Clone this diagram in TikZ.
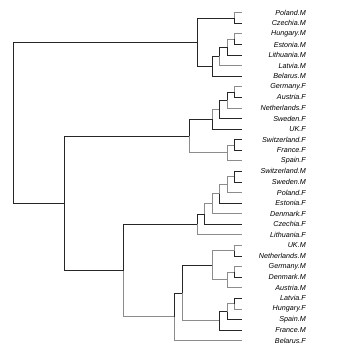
\documentclass[tikz,border=0pt]{standalone}
\usepackage{fontspec}
\setmainfont{Liberation Sans}
\usetikzlibrary{calc}
\newcommand\mrg[4]{\path let \p1=(#3), \p2=(#4) in (#2pt,{0.5*\y1+0.5*\y2}) coordinate (#1);}
\begin{document}
\begin{tikzpicture}[x=1pt,y=-1pt,
  dk/.style={draw=black!85,line width=0.8pt},
  lt/.style={draw=black!45,line width=0.8pt},
  lab/.style={anchor=east,inner sep=0pt,font=\fontsize{7.2}{8}\selectfont\itshape}]
\useasboundingbox (0,0) rectangle (354,354);
\foreach \i/\t in {1/Poland.M,2/Czechia.M,3/Hungary.M,4/Estonia.M,5/Lithuania.M,6/Latvia.M,7/Belarus.M,8/Germany.F,9/Austria.F,10/Netherlands.F,11/Sweden.F,12/UK.F,13/Switzerland.F,14/France.F,15/Spain.F,16/Switzerland.M,17/Sweden.M,18/Poland.F,19/Estonia.F,20/Denmark.F,21/Czechia.F,22/Lithuania.F,23/UK.M,24/Netherlands.M,25/Germany.M,26/Denmark.M,27/Austria.M,28/Latvia.F,29/Hungary.F,30/Spain.M,31/France.M,32/Belarus.F}{
  \coordinate (l\i) at (242,{12.7+(\i-1)*10.58});
  \node[lab] (t\i) at (306,{12.7+(\i-1)*10.58}) {\t};
}
% merges
\mrg{A}{234.5}{l1}{l2}
\mrg{B}{234.5}{l3}{l4}
\mrg{B2}{227}{B}{l5}
\mrg{B3}{219.5}{B2}{l6}
\mrg{B4}{212}{B3}{l7}
\mrg{C1}{197}{A}{B4}
\mrg{D1}{234.5}{l8}{l9}
\mrg{D2}{227}{D1}{l10}
\mrg{D3}{219.5}{D2}{l11}
\mrg{D4}{212}{D3}{l12}
\mrg{E1}{234.5}{l13}{l14}
\mrg{E2}{227}{E1}{l15}
\mrg{F}{189.5}{D4}{E2}
\mrg{G1}{234.5}{l16}{l17}
\mrg{G2}{227}{G1}{l18}
\mrg{G3}{219.5}{G2}{l19}
\mrg{G4}{212}{G3}{l20}
\mrg{G5}{204.5}{G4}{l21}
\mrg{G6}{197}{G5}{l22}
\mrg{H1}{234.5}{l23}{l24}
\mrg{H2}{234.5}{l25}{l26}
\mrg{H3}{227}{H2}{l27}
\mrg{H4}{212}{H1}{H3}
\mrg{I1}{234.5}{l28}{l29}
\mrg{I2}{227}{I1}{l30}
\mrg{I3}{219.5}{I2}{l31}
\mrg{J}{182}{H4}{I3}
\mrg{K}{174.5}{J}{l32}
\mrg{M}{123.3}{G6}{K}
\mrg{N}{64.3}{F}{M}
\mrg{R}{13.3}{C1}{N}
% edges
\draw[dk] (R) |- (C1); \draw[dk] (R) |- (N);
\draw[dk] (C1) |- (A); \draw[dk] (C1) |- (B4);
\draw[lt] (A) |- (l1); \draw[dk] (A) |- (l2);
\draw[dk] (B4) |- (B3); \draw[dk] (B4) |- (l7);
\draw[dk] (B3) |- (B2); \draw[lt] (B3) |- (l6);
\draw[lt] (B2) |- (B); \draw[dk] (B2) |- (l5);
\draw[lt] (B) |- (l3); \draw[dk] (B) |- (l4);
\draw[dk] (N) |- (F); \draw[dk] (N) |- (M);
\draw[dk] (F) |- (D4); \draw[lt] (F) |- (E2);
\draw[lt] (D4) |- (D3); \draw[dk] (D4) |- (l12);
\draw[dk] (D3) |- (D2); \draw[dk] (D3) |- (l11);
\draw[dk] (D2) |- (D1); \draw[lt] (D2) |- (l10);
\draw[lt] (D1) |- (l8); \draw[dk] (D1) |- (l9);
\draw[lt] (E2) |- (E1); \draw[lt] (E2) |- (l15);
\draw[dk] (E1) |- (l13); \draw[dk] (E1) |- (l14);
\draw[dk] (M) |- (G6); \draw[lt] (M) |- (K);
\draw[dk] (G6) |- (G5); \draw[lt] (G6) |- (l22);
\draw[lt] (G5) |- (G4); \draw[dk] (G5) |- (l21);
\draw[lt] (G4) |- (G3); \draw[lt] (G4) |- (l20);
\draw[lt] (G3) |- (G2); \draw[dk] (G3) |- (l19);
\draw[lt] (G2) |- (G1); \draw[lt] (G2) |- (l18);
\draw[dk] (G1) |- (l16); \draw[dk] (G1) |- (l17);
\draw[dk] (K) |- (J); \draw[lt] (K) |- (l32);
\draw[dk] (J) |- (H4); \draw[lt] (J) |- (I3);
\draw[lt] (H4) |- (H1); \draw[lt] (H4) |- (H3);
\draw[lt] (H1) |- (l23); \draw[dk] (H1) |- (l24);
\draw[lt] (H3) |- (H2); \draw[lt] (H3) |- (l27);
\draw[lt] (H2) |- (l25); \draw[dk] (H2) |- (l26);
\draw[dk] (I3) |- (I2); \draw[dk] (I3) |- (l31);
\draw[lt] (I2) |- (I1); \draw[dk] (I2) |- (l30);
\draw[dk] (I1) |- (l28); \draw[lt] (I1) |- (l29);
\end{tikzpicture}
\end{document}
